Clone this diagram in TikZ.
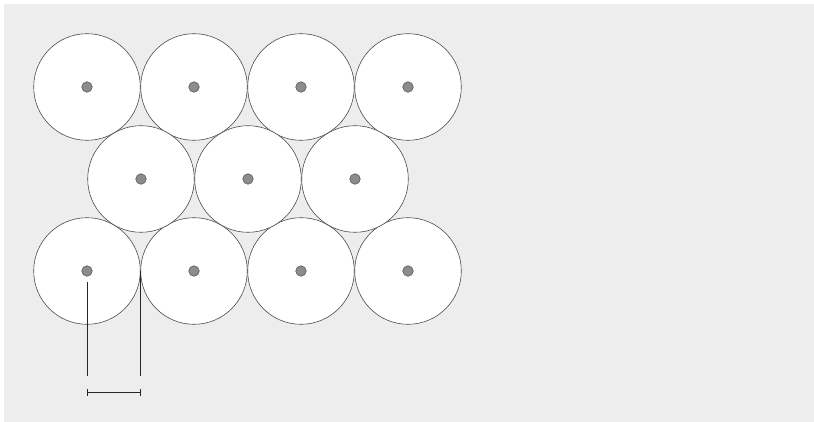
\documentclass[tikz,border=0pt]{standalone}
\usetikzlibrary{positioning}

\tikzset{
  disk/.style={circle,draw=black!70,fill=white,line width=0.6pt,minimum size=106.6pt,inner sep=0pt},
  axis/.style={circle,draw=black!65,fill=black!45,line width=0.6pt,minimum size=10.5pt,inner sep=0pt},
  dimline/.style={line width=0.8pt,draw=black!85}
}

\begin{document}
\begin{tikzpicture}[x=1pt,y=-1pt]
  % canvas: white rim at top/left, light grey panel
  \fill[white] (0,0) rectangle (814,422);
  \fill[black!7] (4,4) rectangle (814,422);
  \useasboundingbox (0,0) rectangle (814,422);
  % Rows of packed circles, each with its centre marked.
  % Upper and lower row have 4 circles, middle row 3 (shifted half a pitch).
  \foreach \i/\x in {1/87,2/194,3/301,4/408} {
    \node[disk] (top\i) at (\x,87) {};
    \node[axis] (ctop\i) at (top\i.center) {};
    \node[disk] (bot\i) at (\x,271) {};
    \node[axis] (cbot\i) at (bot\i.center) {};
  }
  \foreach \i/\x in {1/141,2/248,3/355} {
    \node[disk] (mid\i) at (\x,179) {};
    \node[axis] (cmid\i) at (mid\i.center) {};
  }
  % Dimension: from centre to rim of the first lower circle
  \coordinate (dimA) at (87,376);
  \coordinate (dimB) at (bot1.east |- dimA);
  \draw[dimline] (cbot1.south) ++(0,5) -- (dimA);
  \draw[dimline] (bot1.east) -- (dimB);
  \draw[dimline,|-|] ([yshift=-16.5pt]dimA) -- ([yshift=-16.5pt]dimB);
\end{tikzpicture}
\end{document}
